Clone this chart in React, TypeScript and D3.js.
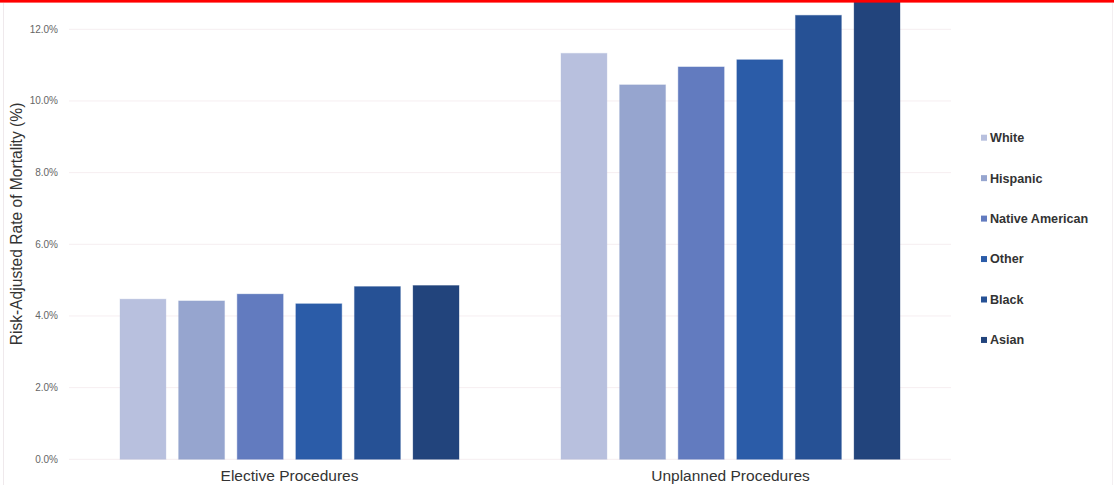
import React from "react";
import * as d3 from "d3";

const groups = ["Elective Procedures", "Unplanned Procedures"];
const races = ["White", "Hispanic", "Native American", "Other", "Black", "Asian"];
const colors = ["#b8c0de", "#96a5cf", "#627bbf", "#2b5ca8", "#265195", "#22447c"];
const electiveValues = [4.47, 4.42, 4.61, 4.34, 4.82, 4.85];
const unplannedValues = [11.33, 10.45, 10.95, 11.15, 12.39, 12.9];
const yTicks = [0, 2, 4, 6, 8, 10, 12];

const W = 1114;
const H = 487;

export default function App() {
  const x0 = d3.scaleBand<string>().domain(groups).range([69, 951]).padding(0);
  const x1 = d3
    .scaleBand<string>()
    .domain(races)
    .range([0, x0.bandwidth()])
    .paddingInner(0.216)
    .paddingOuter(0.87);
  const y = d3.scaleLinear().domain([0, 12]).range([459.3, 29.3]);
  const color = d3.scaleOrdinal<string, string>().domain(races).range(colors);
  const seriesByGroup = [electiveValues, unplannedValues];
  const fmt = d3.format(".1f");

  return (
    <svg
      width={W}
      height={H}
      style={{ position: "absolute", left: 0, top: 0, display: "block", background: "#fff" }}
      fontFamily="'Liberation Sans', Arial, sans-serif"
    >
      <rect x={0} y={0} width={W} height={H} fill="#ffffff" />
      {/* gridlines */}
      {yTicks.map((t) => (
        <g key={t}>
          <line x1={69} x2={951} y1={y(t)} y2={y(t)} stroke="#f6eef1" strokeWidth={1} />
          <text
            x={58}
            y={y(t)}
            dy="0.35em"
            textAnchor="end"
            fontSize={10}
            fill="#666"
          >
            {fmt(t) + "%"}
          </text>
        </g>
      ))}
      {/* bars */}
      {groups.map((g, gi) => (
        <g key={g} transform={`translate(${x0(g)},0)`}>
          {races.map((r, ri) => {
            const v = seriesByGroup[gi][ri];
            return (
              <rect
                key={r}
                x={x1(r)}
                y={y(v)}
                width={x1.bandwidth()}
                height={y(0) - y(v)}
                fill={color(r)}
                stroke={color(r)}
                strokeOpacity={0.35}
                strokeWidth={1}
              />
            );
          })}
          <text
            x={x0.bandwidth() / 2}
            y={481}
            textAnchor="middle"
            fontSize={15.5}
            fill="#333"
          >
            {g}
          </text>
        </g>
      ))}
      {/* y axis title */}
      <text
        transform={`translate(22,224) rotate(-90)`}
        textAnchor="middle"
        fontSize={15.6}
        fill="#333"
      >
        Risk-Adjusted Rate of Mortality (%)
      </text>
      {/* legend */}
      {races.map((r, i) => {
        const ly = 137.7 + i * 40.45;
        return (
          <g key={r}>
            <rect x={981} y={ly - 3} width={6} height={6} fill={color(r)} />
            <text x={990} y={ly} dy="0.35em" fontSize={12.6} fontWeight="bold" fill="#333">
              {r}
            </text>
          </g>
        );
      })}
      {/* frame */}
      <line x1={3.5} x2={3.5} y1={3} y2={485} stroke="#efe9ec" strokeWidth={1} />
      <line x1={1112.5} x2={1112.5} y1={3} y2={485} stroke="#f3eff1" strokeWidth={1} />
      <rect x={0} y={0} width={W} height={2.6} fill="#ff0000" />
    </svg>
  );
}
